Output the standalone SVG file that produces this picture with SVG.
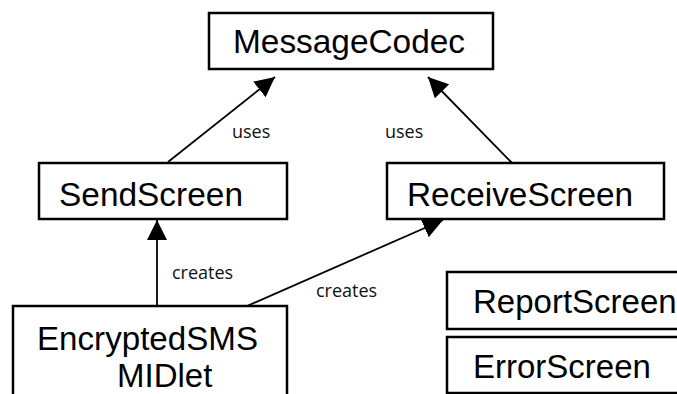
<svg xmlns="http://www.w3.org/2000/svg" width="677" height="394" viewBox="0 0 677 394">
  <style>
    .box { fill: #fff; stroke: #000; stroke-width: 2.5; }
    .name { font-family: "Liberation Sans", Arial, sans-serif; font-size: 33px; fill: #000; }
    .edge { stroke: #000; stroke-width: 1.8; fill: none; }
    .label { font-family: "Open Sans", "Noto Sans", sans-serif; font-size: 18px; fill: #111; }
  </style>
  <defs>
    <marker id="head" viewBox="0 0 20 20" refX="20" refY="10" markerWidth="20" markerHeight="20" markerUnits="userSpaceOnUse" orient="auto">
      <path d="M0,0 L20,10 L0,20 Z" fill="#000"/>
    </marker>
  </defs>
  <rect width="677" height="394" fill="#fff"/>

  <g id="connectors">
    <line class="edge" x1="168" y1="162" x2="275" y2="77" marker-end="url(#head)"/>
    <text class="label" x="232" y="138">uses</text>
    <line class="edge" x1="512" y1="163" x2="428" y2="77" marker-end="url(#head)"/>
    <text class="label" x="385" y="138">uses</text>
    <line class="edge" x1="157" y1="306" x2="157" y2="220" stroke-width="2.2" marker-end="url(#head)"/>
    <text class="label" x="172" y="279">creates</text>
    <line class="edge" x1="247" y1="306" x2="443" y2="220" marker-end="url(#head)"/>
    <text class="label" x="316" y="297">creates</text>
  </g>

  <g id="MessageCodec">
    <rect class="box" x="209" y="13" width="284" height="56"/>
    <text class="name" x="233" y="53" textLength="232" lengthAdjust="spacingAndGlyphs">MessageCodec</text>
  </g>

  <g id="SendScreen">
    <rect class="box" x="39" y="163" width="248" height="56"/>
    <text class="name" x="59" y="206" textLength="184" lengthAdjust="spacingAndGlyphs">SendScreen</text>
  </g>

  <g id="ReceiveScreen">
    <rect class="box" x="387" y="163" width="277" height="56"/>
    <text class="name" x="407" y="206" textLength="226" lengthAdjust="spacingAndGlyphs">ReceiveScreen</text>
  </g>

  <g id="EncryptedSMSMIDlet">
    <rect class="box" x="13" y="306" width="274" height="100"/>
    <text class="name" x="37" y="350" textLength="221" lengthAdjust="spacingAndGlyphs">EncryptedSMS</text>
    <text class="name" x="117" y="387">MIDlet</text>
  </g>

  <g id="ReportScreen">
    <rect class="box" x="447" y="272" width="250" height="57"/>
    <text class="name" x="473" y="313">ReportScreen</text>
  </g>

  <g id="ErrorScreen">
    <rect class="box" x="447" y="337" width="250" height="56"/>
    <text class="name" x="473" y="378">ErrorScreen</text>
  </g>
</svg>
